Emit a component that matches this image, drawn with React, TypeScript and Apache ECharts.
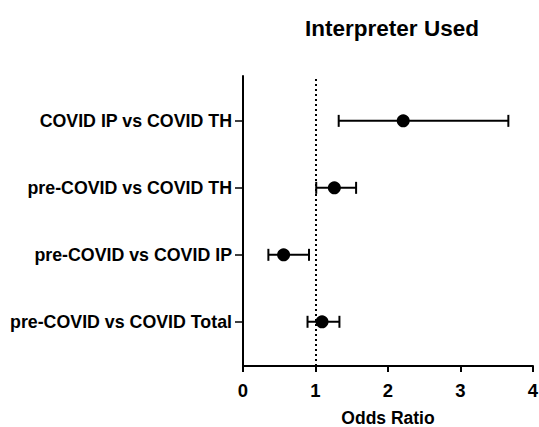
import React, { useEffect, useRef } from "react";
import * as echarts from "echarts";

const categories = [
  "COVID IP vs COVID TH",
  "pre-COVID vs COVID TH",
  "pre-COVID vs COVID IP",
  "pre-COVID vs COVID Total",
];
const oddsRatio = [2.21, 1.26, 0.56, 1.09];
const lowerCI = [1.32, 1.01, 0.35, 0.89];
const upperCI = [3.66, 1.56, 0.91, 1.33];
const xTicks = [0, 1, 2, 3, 4];

export default function App() {
  const ref = useRef<HTMLDivElement>(null);
  useEffect(() => {
    if (!ref.current) return;
    const chart = echarts.init(ref.current, null, { renderer: "svg" });
    const n = categories.length;
    const yPos = categories.map((_, i) => n - i);
    const font = "'Liberation Sans', Arial, Helvetica, sans-serif";
    const errData = categories.map((_, i) => [lowerCI[i], upperCI[i], yPos[i]]);
    const ptData = categories.map((_, i) => [oddsRatio[i], yPos[i]]);
    chart.setOption({
      animation: false,
      title: {
        text: "Interpreter Used",
        left: 387,
        top: 12,
        textAlign: "center",
        textStyle: { fontFamily: font, fontSize: 22.5, fontWeight: "bold", color: "#000" },
      },
      grid: { left: 243, right: 6, top: 76, bottom: 61, containLabel: false, outerBoundsMode: "none" },
      xAxis: {
        type: "value",
        min: xTicks[0],
        max: xTicks[xTicks.length - 1],
        interval: 1,
        name: "Odds Ratio",
        nameLocation: "middle",
        nameGap: 43,
        nameTextStyle: { fontFamily: font, fontSize: 17.5, fontWeight: "bold", color: "#000", lineHeight: 18 },
        axisLine: { show: true, lineStyle: { color: "#000", width: 2 } },
        axisTick: { show: true, length: 6, lineStyle: { color: "#000", width: 2 } },
        axisLabel: { fontFamily: font, fontSize: 18.5, fontWeight: "bold", color: "#000", margin: 15 },
        splitLine: { show: false },
      },
      yAxis: {
        type: "value",
        min: 0.34,
        max: 4.67,
        axisLine: { show: true, lineStyle: { color: "#000", width: 2 } },
        axisTick: { show: true, length: 8, customValues: yPos, lineStyle: { color: "#000", width: 1.5 } },
        axisLabel: {
          customValues: yPos,
          formatter: (v: number) => categories[n - Math.round(v)] ?? "",
          fontFamily: font,
          fontSize: 17.8,
          fontWeight: "bold",
          color: "#000",
          margin: 11,
        },
        splitLine: { show: false },
      },
      series: [
        {
          type: "line",
          data: [],
          markLine: {
            silent: true,
            symbol: "none",
            label: { show: false },
            lineStyle: { color: "#000", type: [2, 3], width: 2 },
            data: [{ xAxis: 1 }],
          },
        },
        {
          type: "custom",
          data: errData,
          renderItem: (params: any, api: any) => {
            const lo = api.coord([api.value(0), api.value(2)]);
            const hi = api.coord([api.value(1), api.value(2)]);
            const h = 6;
            const style = { stroke: "#000", lineWidth: 2, fill: "none" };
            return {
              type: "group",
              children: [
                { type: "line", shape: { x1: lo[0], y1: lo[1], x2: hi[0], y2: hi[1] }, style },
                { type: "line", shape: { x1: lo[0], y1: lo[1] - h, x2: lo[0], y2: lo[1] + h }, style },
                { type: "line", shape: { x1: hi[0], y1: hi[1] - h, x2: hi[0], y2: hi[1] + h }, style },
              ],
            };
          },
        },
        {
          type: "scatter",
          data: ptData,
          symbol: "circle",
          symbolSize: 13,
          itemStyle: { color: "#000", opacity: 1 },
          z: 5,
        },
      ],
    });
    return () => chart.dispose();
  }, []);
  return (
    <div
      ref={ref}
      style={{ position: "fixed", left: 0, top: 0, width: 539, height: 427, background: "#fff" }}
    />
  );
}
